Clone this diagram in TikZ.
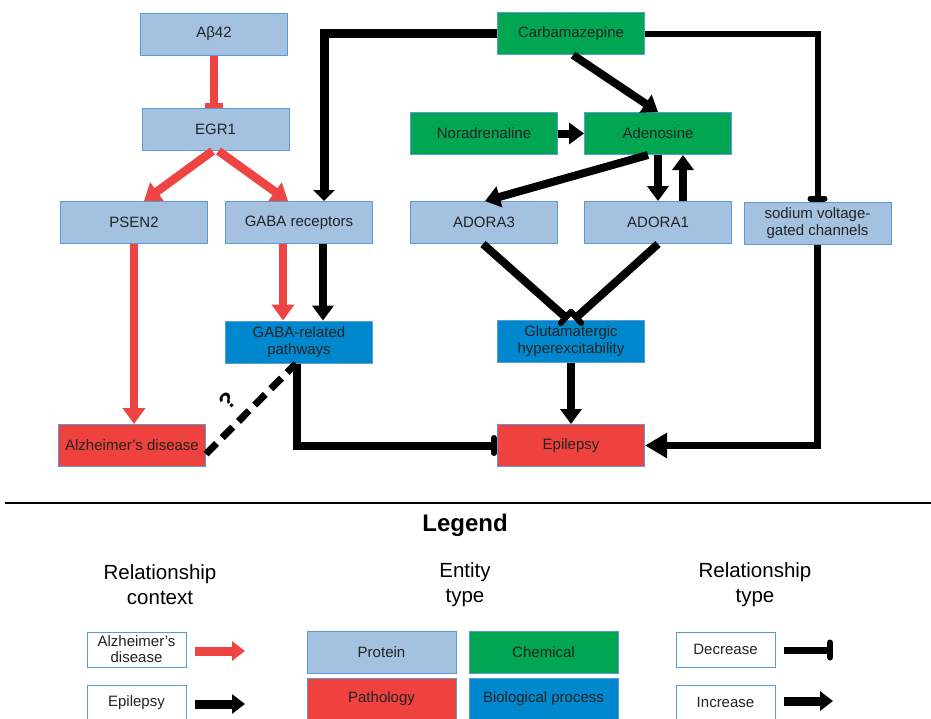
\documentclass[tikz,border=0pt]{standalone}
\usepackage{fontspec}
\setmainfont{Liberation Sans}
\usetikzlibrary{arrows.meta,calc}
\definecolor{protein}{RGB}{164,194,224}
\definecolor{chemical}{RGB}{0,166,81}
\definecolor{pathology}{RGB}{239,66,62}
\definecolor{bioproc}{RGB}{0,136,206}
\definecolor{boxborder}{RGB}{91,155,213}
\definecolor{redc}{RGB}{239,68,68}
\definecolor{txt}{RGB}{35,35,35}
\tikzset{
  ent/.style={draw=boxborder, line width=1pt, minimum width=147pt, minimum height=42pt,
    inner sep=1pt, align=center, text=txt, font=\fontsize{15}{17}\selectfont},
  prot/.style={ent, fill=protein},
  chem/.style={ent, fill=chemical},
  path/.style={ent, fill=pathology},
  bio/.style={ent, fill=bioproc},
  lbox/.style={draw=boxborder, line width=1pt, fill=white, minimum width=99pt, minimum height=35pt,
    inner sep=1pt, align=center, text=txt, font=\fontsize{15}{16}\selectfont},
  redarr/.style={draw=redc, line width=8.5pt, -{Triangle[width=22pt,length=16pt]}},
  redbar/.style={draw=redc, line width=8.5pt, -{Bar[width=18pt,line width'=5pt]}},
  blkarr/.style={draw=black, line width=8pt, -{Triangle[width=21pt,length=15pt]}},
  blkbar/.style={draw=black, line width=8pt, -{Bar[width=15pt,line width'=6pt,round]}},
  heading/.style={align=center, text=black, font=\fontsize{20.5}{25}\selectfont},
}
\begin{document}
\begin{tikzpicture}[x=1pt,y=-1pt]
\useasboundingbox (0,0) rectangle (931,718);
\clip (0,0) rectangle (931,718);
\fill[white] (0,0) rectangle (931,718);

% entities
\node[prot] (ab42) at (214,34) {Aβ42};
\node[prot] (egr1) at (215.5,129.5) {EGR1};
\node[prot] (psen2) at (134,222.5) {PSEN2};
\node[prot] (gabar) at (299,222.5) {GABA receptors};
\node[chem] (carb) at (571,33.5) {Carbamazepine};
\node[chem] (nor) at (484,133.5) {Noradrenaline};
\node[chem] (aden) at (658,133.5) {Adenosine};
\node[prot] (adora3) at (484,222.5) {ADORA3};
\node[prot] (adora1) at (658,222.5) {ADORA1};
\node[prot] (sodium) at (817.5,223) {sodium voltage-\\gated channels};
\node[bio] (gabap) at (299,342) {GABA-related\\pathways};
\node[bio] (glut) at (571,341) {Glutamatergic\\hyperexcitability};
\node[path] (alz) at (132,445.5) {Alzheimer's disease};
\node[path] (epi) at (571,445.5) {Epilepsy};

% red connectors
\draw[redbar] (ab42.south) -- (ab42.south |- egr1.north);
\draw[redarr] ([xshift=-3pt]egr1.south) -- ([xshift=10pt]psen2.north);
\draw[redarr] ([xshift=3pt]egr1.south) -- ([xshift=-11pt]gabar.north);
\draw[redarr] ([xshift=-16pt]gabar.south) -- ([xshift=-16pt]gabap.north);
\draw[redarr] (psen2.south) -- (psen2.south |- alz.north);

% black connectors
\draw[blkarr, line width=9pt, -{Triangle[width=21pt,length=11pt]}] (carb.west) -| ([xshift=25pt]gabar.north);
\draw[blkbar, line width=6pt, -{Bar[width=14pt,line width'=6pt,round]}] (carb.east) -| (sodium.north);
\draw[blkarr] ([xshift=2pt]carb.south) -- (aden.north);
\draw[blkarr] (nor.east) -- (aden.west);
\draw[blkarr] ([xshift=-10pt]aden.south) -- ([xshift=1pt]adora3.north);
\draw[blkarr] (aden.south) -- (adora1.north);
\draw[blkarr] ([xshift=25pt]adora1.north) -- ([xshift=25pt]aden.south);
\draw[blkbar] ([xshift=-1pt]adora3.south) -- ([xshift=-3pt]glut.north);
\draw[blkbar] (adora1.south) -- ([xshift=3pt]glut.north);
\draw[blkarr] ([xshift=24pt]gabar.south) -- ([xshift=24pt]gabap.north);
\draw[blkarr] (glut.south) -- (epi.north);
\draw[blkbar] ([xshift=-2pt]gabap.south) |- (epi.west);
\draw[blkarr, line width=7pt, -{Triangle[width=24pt,length=22pt]}] (sodium.south) |- (epi.east);
\draw[black, line width=7pt, dash pattern=on 15pt off 8pt] ([yshift=13pt]alz.south east) -- ([xshift=-3pt]gabap.south);
\node[rotate=45, font=\bfseries\fontsize{23}{23}\selectfont] (q) at (228,401) {?};

% separator
\draw[black, line width=2pt] (5,503) -- (931,503);

% legend
\node[font=\bfseries\fontsize{24}{26}\selectfont] (legend) at (465,525) {Legend};
\node[heading] (h1) at (160,584.5) {Relationship\\context};
\node[heading] (h2) at (465,584.5) {Entity\\type};
\node[heading] (h3) at (755,584.5) {Relationship\\type};

\node[lbox] (lalz) at (136.5,649.5) {Alzheimer's\\disease};
\node[lbox] (lepi) at (136.5,702.5) {Epilepsy};
\coordinate (ra1) at (245,651);
\coordinate (ra2) at (245,704);
\draw[redarr, line width=9pt, -{Triangle[width=19pt,length=13pt]}] (lalz.east |- ra1) ++(8,0) -- (ra1);
\draw[blkarr, line width=9pt, -{Triangle[width=19pt,length=13pt]}] (lepi.east |- ra2) ++(8,0) -- (ra2);

\node[prot, minimum width=149pt] (lprot) at (381.5,652) {Protein};
\node[chem, minimum width=149pt] (lchem) at (543.5,652) {Chemical};
\node[path, minimum width=149pt] (lpath) at (381.5,699) {Pathology};
\node[bio, minimum width=149pt] (lbio) at (543.5,699) {Biological process};

\node[lbox] (ldec) at (725.5,649.5) {Decrease};
\node[lbox] (linc) at (725.5,702.5) {Increase};
\coordinate (da) at (833,650);
\coordinate (ia) at (833,701);
\draw[blkbar, line width=7pt, -{Bar[width=15pt,line width'=6pt,round]}] (ldec.east |- da) ++(8,0) -- (da);
\draw[blkarr, line width=9pt, -{Triangle[width=19pt,length=13pt]}] (linc.east |- ia) ++(8,0) -- (ia);
\end{tikzpicture}
\end{document}
